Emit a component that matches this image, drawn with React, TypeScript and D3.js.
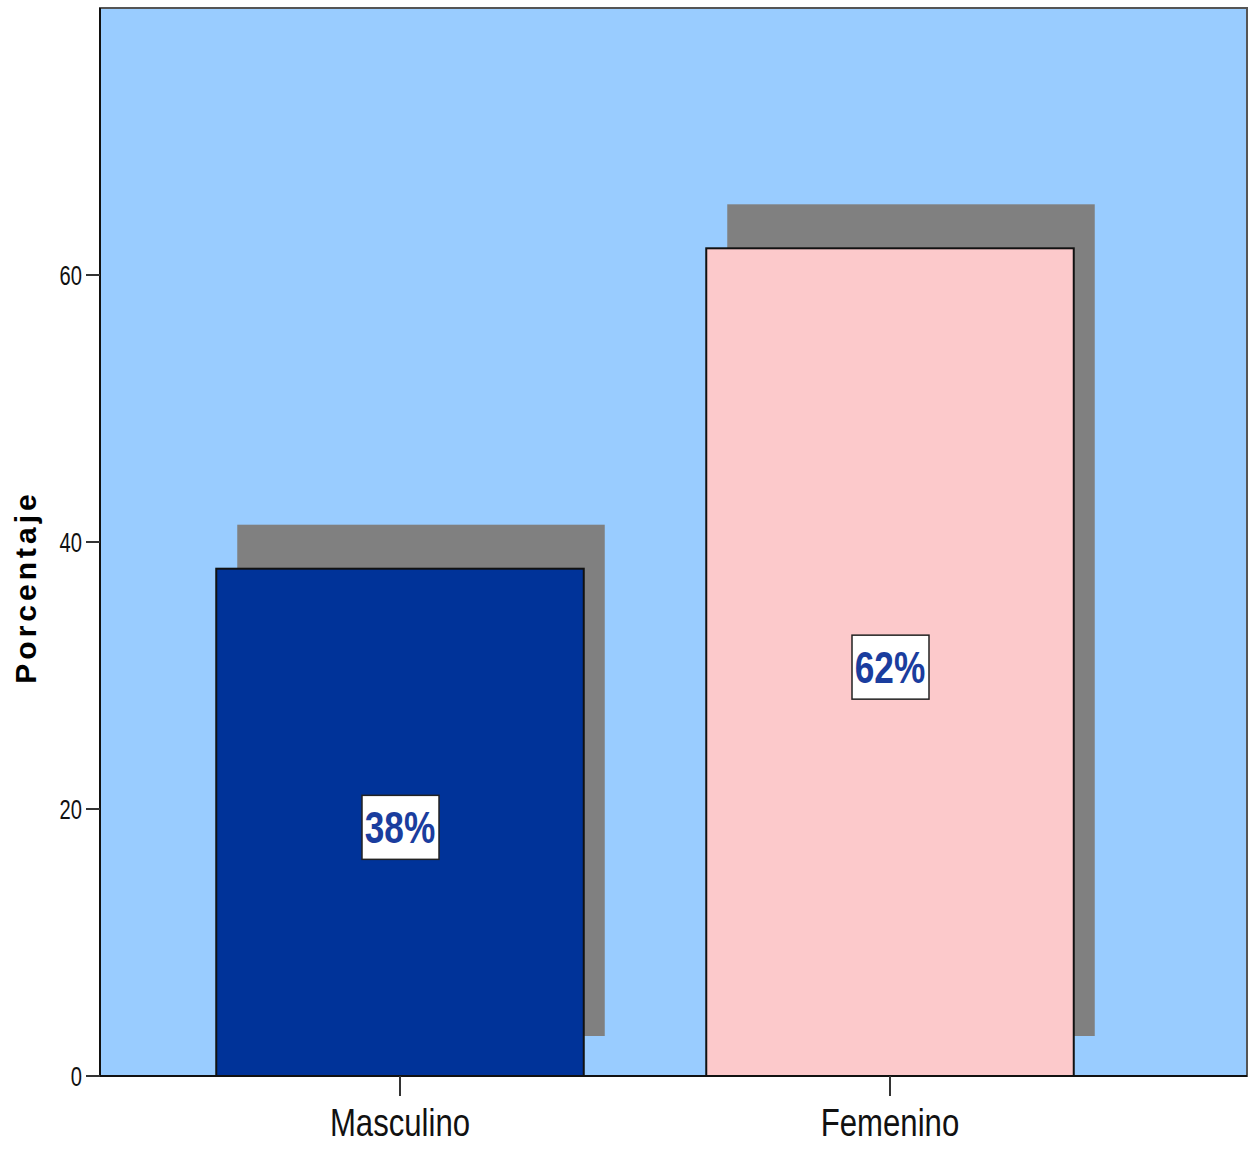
import React from "react";
import * as d3 from "d3";

const categories = ["Masculino", "Femenino"];
const values = [38, 62];
const labels = ["38%", "62%"];
const barColors = ["#003399", "#FCC9CB"];
const yTicks = [0, 20, 40, 60];

const W = 1250;
const H = 1149;
const left = 100;
const right = 1247;
const top = 8;
const bottom = 1076;

export default function App() {
  const y = d3.scaleLinear().domain([0, 80]).range([bottom, top]);
  const x = d3
    .scaleBand<string>()
    .domain(categories)
    .range([155, 1135])
    .paddingInner(0.25)
    .paddingOuter(0.125);
  const bw = x.bandwidth();
  const shadowDx = 21;
  const font = "'Liberation Sans', Arial, sans-serif";
  const sx = (cx: number, s: number) => `translate(${cx},0) scale(${s},1) translate(${-cx},0)`;

  return (
    <svg width={W} height={H} style={{ position: "absolute", left: 0, top: 0, background: "#fff" }}>
      <rect x={left} y={top} width={right - left} height={bottom - top} fill="#99CCFF" stroke="#555" strokeWidth={2} />
      {categories.map((c, i) => {
        const x0 = x(c)!;
        const yt = y(values[i]);
        return (
          <rect key={"s" + c} x={x0 + shadowDx} y={yt - 44} width={bw} height={bottom - yt + 4} fill="#808080" />
        );
      })}
      {categories.map((c, i) => {
        const x0 = x(c)!;
        const yt = y(values[i]);
        return (
          <rect key={"b" + c} x={x0} y={yt} width={bw} height={bottom - yt} fill={barColors[i]} stroke="#111" strokeWidth={2} />
        );
      })}
      {categories.map((c, i) => {
        const cx = x(c)! + bw / 2;
        const cy = y(values[i] / 2) + 5;
        return (
          <g key={"l" + c}>
            <rect x={cx - 38} y={cy - 32} width={77} height={64} fill="#fff" stroke="#222" strokeWidth={1.5} />
            <text
              x={cx}
              y={cy + 16}
              textAnchor="middle"
              fontFamily={font}
              fontWeight="bold"
              fontSize={44}
              fill="#1A3D9E"
              transform={sx(cx, 0.8)}
            >
              {labels[i]}
            </text>
          </g>
        );
      })}
      {/* axes */}
      <line x1={left} x2={left} y1={top} y2={bottom} stroke="#111" strokeWidth={2} />
      <line x1={left} x2={right} y1={bottom} y2={bottom} stroke="#111" strokeWidth={2} />
      {yTicks.map((t) => (
        <g key={"t" + t}>
          <line x1={left - 14} x2={left} y1={y(t)} y2={y(t)} stroke="#333" strokeWidth={2} />
          <text
            x={left - 18}
            y={y(t) + 10}
            textAnchor="end"
            fontFamily={font}
            fontSize={28}
            fill="#111"
            transform={sx(left - 18, 0.72)}
          >
            {t}
          </text>
        </g>
      ))}
      {categories.map((c) => {
        const cx = x(c)! + bw / 2;
        return (
          <g key={"x" + c}>
            <line x1={cx} x2={cx} y1={bottom} y2={bottom + 20} stroke="#333" strokeWidth={2} />
            <text x={cx} y={bottom + 60} textAnchor="middle" fontFamily={font} fontSize={38} fill="#111" transform={sx(cx, 0.82)}>
              {c}
            </text>
          </g>
        );
      })}
      <text
        transform={`translate(36, 587) rotate(-90)`}
        textAnchor="middle"
        fontFamily={font}
        fontWeight="bold"
        fontSize={30}
        letterSpacing={4}
        fill="#000"
      >
        Porcentaje
      </text>
    </svg>
  );
}
